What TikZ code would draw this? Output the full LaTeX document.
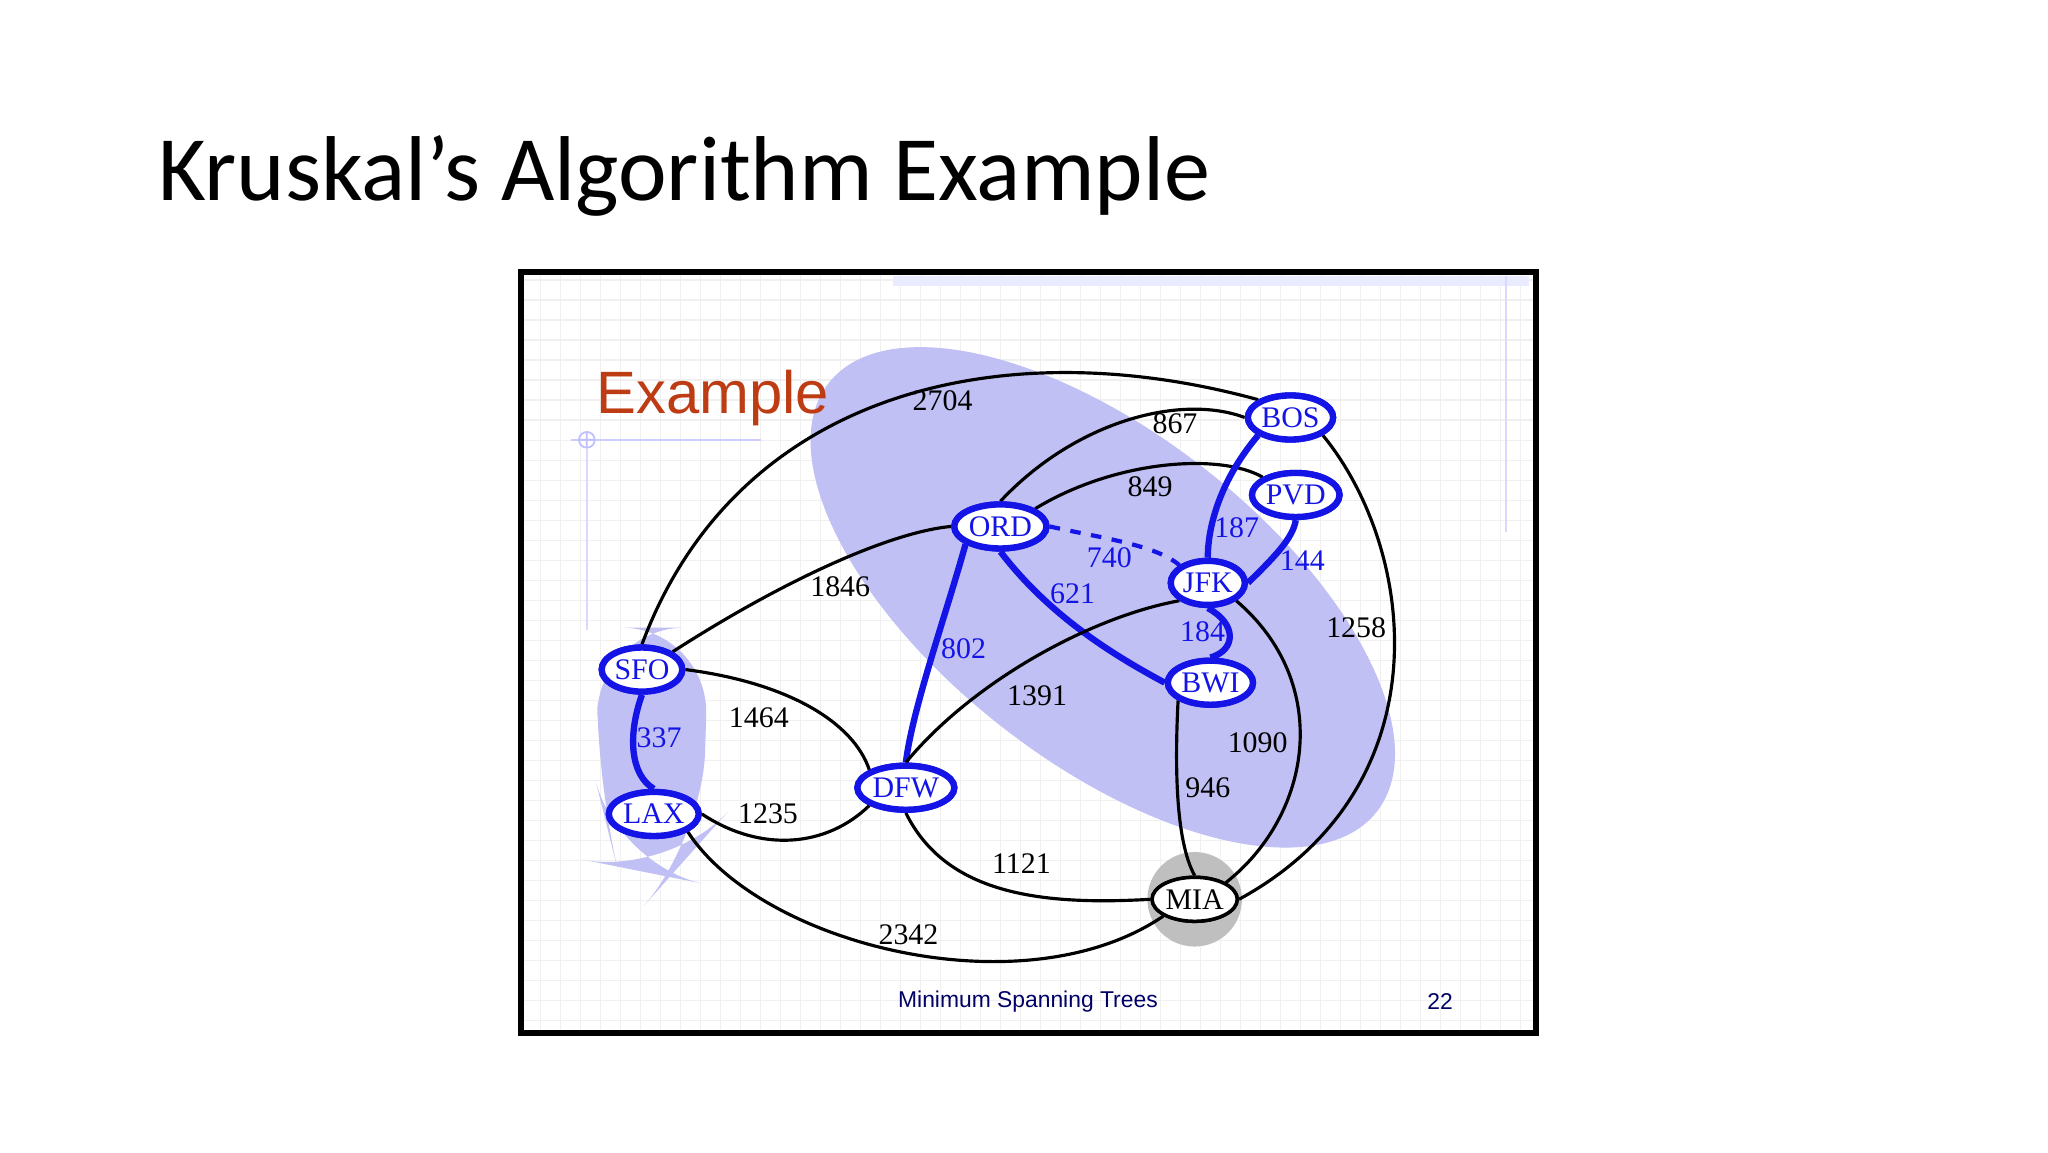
\documentclass[tikz,border=0pt]{standalone}
\usepackage{fontspec}
\setmainfont{Liberation Serif}
\newfontfamily\titlefont{Carlito}
\newfontfamily\sansf{Liberation Sans}
\usetikzlibrary{shapes.geometric}
\definecolor{mblue}{RGB}{20,20,230}
\definecolor{regioncol}{RGB}{192,192,245}
\definecolor{exred}{RGB}{190,60,20}
\tikzset{
  city/.style={ellipse,draw=mblue,line width=1.8pt,fill=white,inner sep=0.3pt,minimum width=0.74cm,minimum height=0.44cm,font=\fontsize{8.5}{8.5}\selectfont,text=mblue},
  ed/.style={line width=0.9pt,black},
  mst/.style={line width=1.8pt,mblue},
  wl/.style={font=\fontsize{8.5}{8.5}\selectfont,inner sep=1pt},
  bl/.style={wl,text=mblue}
}
\begin{document}
\begin{tikzpicture}[x=0.01313cm,y=-0.01313cm]
\useasboundingbox (0,0) rectangle (1560,877.5);
\fill[white] (0,0) rectangle (1560,877.5);
\node[anchor=base west,font=\titlefont\fontsize{26.2}{26.2}\selectfont,inner sep=0] (title) at (120,153) {Kruskal’s Algorithm Example};
% slide background
\fill[white] (397,207) rectangle (1170,787);
\begin{scope}
\clip (397,207) rectangle (1170,787);
\draw[black!6,line width=0.4pt,step=0.2cm] (397,207) grid (1170,787);
\end{scope}
\fill[blue!8] (680,210) rectangle (1165,218);
\draw[blue!15,line width=0.6pt] (1147,210) -- (1147,405);
\draw[blue!20,line width=0.5pt] (435,335) -- (580,335);
\draw[blue!25,line width=0.5pt] (447,335) circle (6) (441,335)--(453,335) (447,329)--(447,341);
\draw[blue!15,line width=0.5pt] (447,341) -- (447,480);
% shaded regions
\fill[regioncol,rotate around={-38:(840,455)}] (840,455) ellipse (265 and 125);
\fill[regioncol,rounded corners=25] (455,478) -- (540,478) -- (535,640) -- (510,668) -- (470,660) -- (455,600) -- cycle;
\fill[black!25] (910,685) circle (36);
\node[anchor=base,font=\sansf\fontsize{17}{17}\selectfont,text=exred,inner sep=0] (ex) at (543,315) {Example};
% nodes
\node[city] (SFO) at (489,510) {SFO};
\node[city] (LAX) at (498,620) {LAX};
\node[city] (DFW) at (690,600) {DFW};
\node[city] (ORD) at (762,401) {ORD};
\node[city] (BOS) at (983,318) {BOS};
\node[city] (PVD) at (987,377) {PVD};
\node[city] (JFK) at (920,444) {JFK};
\node[city] (BWI) at (922,520) {BWI};
\node[city,draw=black,line width=1pt,text=black] (MIA) at (910,685) {MIA};
% edges
\draw[ed] (SFO.north) .. controls (560,300) and (760,250) .. (BOS.north west);
\draw[ed] (ORD.north) .. controls (820,320) and (900,300) .. (BOS.west);
\draw[ed] (ORD.north east) .. controls (850,350) and (930,345) .. (PVD.north west);
\draw[mblue,line width=1.2pt,dashed] (ORD.east) .. controls (840,410) and (880,415) .. (JFK.north west);
\draw[ed] (SFO.north east) .. controls (600,440) and (680,405) .. (ORD.west);
\draw[mst] (ORD.south west) .. controls (720,470) and (695,540) .. (DFW.north);
\draw[mst] (ORD.south) .. controls (800,470) and (850,500) .. (BWI.west);
\draw[mst] (BOS.south west) .. controls (930,365) and (920,400) .. (JFK.north);
\draw[mst] (PVD.south) .. controls (985,410) and (970,425) .. (JFK.east);
\draw[mst] (JFK.south) .. controls (942,475) and (942,495) .. (BWI.north);
\draw[ed] (DFW.north) .. controls (740,520) and (830,470) .. (JFK.south west);
\draw[ed] (JFK.south east) .. controls (1015,520) and (1000,620) .. (MIA.north east);
\draw[ed] (BWI.south west) .. controls (895,580) and (895,640) .. (MIA.north);
\draw[ed] (BOS.south east) .. controls (1080,420) and (1100,600) .. (MIA.east);
\draw[mst] (SFO.south) .. controls (478,560) and (480,590) .. (LAX.north);
\draw[ed] (SFO.east) .. controls (600,520) and (650,550) .. (DFW.north west);
\draw[ed] (LAX.east) .. controls (580,650) and (630,645) .. (DFW.south west);
\draw[ed] (DFW.south) .. controls (720,680) and (790,690) .. (MIA.west);
\draw[ed] (LAX.south east) .. controls (580,720) and (780,770) .. (MIA.south west);
% redraw nodes on top
\node[city] at (SFO) {SFO};
\node[city] at (LAX) {LAX};
\node[city] at (DFW) {DFW};
\node[city] at (ORD) {ORD};
\node[city] at (BOS) {BOS};
\node[city] at (PVD) {PVD};
\node[city] at (JFK) {JFK};
\node[city] at (BWI) {BWI};
\node[city,draw=black,line width=1pt,text=black] at (MIA) {MIA};
% labels
\node[wl] (l2704) at (718,305) {2704};
\node[wl] (l867) at (895,323) {867};
\node[wl] (l849) at (876,371) {849};
\node[bl] (l740) at (845,425) {740};
\node[wl] (l1846) at (640,447) {1846};
\node[bl] (l802) at (734,494) {802};
\node[bl] (l621) at (817,452) {621};
\node[bl] (l187) at (942,402) {187};
\node[bl] (l144) at (992,427) {144};
\node[bl] (l184) at (916,481) {184};
\node[wl] (l1391) at (790,530) {1391};
\node[wl] (l1090) at (958,566) {1090};
\node[wl] (l946) at (920,600) {946};
\node[wl] (l1258) at (1033,478) {1258};
\node[bl] (l337) at (502,562) {337};
\node[wl] (l1464) at (578,547) {1464};
\node[wl] (l1235) at (585,620) {1235};
\node[wl] (l1121) at (778,658) {1121};
\node[wl] (l2342) at (692,712) {2342};
\node[font=\sansf\fontsize{6.5}{6.5}\selectfont,text=blue!40!black] (foot) at (783,763) {Minimum Spanning Trees};
\node[font=\sansf\fontsize{6.5}{6.5}\selectfont,text=blue!40!black] (pg) at (1097,763) {22};
\draw[black,line width=1.6pt] (397,207) rectangle (1170,787);
\end{tikzpicture}
\end{document}
